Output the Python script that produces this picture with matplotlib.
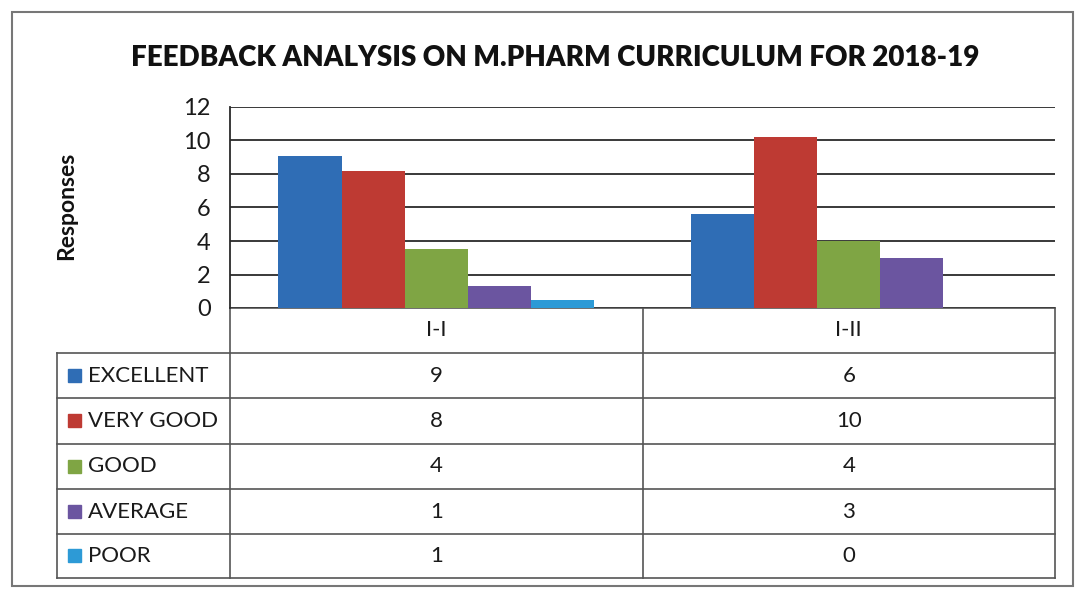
import numpy as np
import matplotlib
matplotlib.use("Agg")
import matplotlib.pyplot as plt
import matplotlib.transforms as mtransforms
from matplotlib.patches import Rectangle

# data (bars), table shows them rounded
categories = ["I-I", "I-II"]
ratings = ["EXCELLENT", "VERY GOOD", "GOOD", "AVERAGE", "POOR"]
excellent = [9.1, 5.6]
very_good = [8.2, 10.2]
good = [3.5, 4.0]
average = [1.3, 3.0]
poor = [0.5, 0.0]
colors = ["#2F6DB5", "#BE3A33", "#7FA544", "#6B55A0", "#2D9AD6"]

W, H = 1075, 590


def fx(px):
    return px / W


def fy(py):
    return 1 - py / H


def main():
    plt.rcParams["font.family"] = ["Lato", "DejaVu Sans"]
    series = [excellent, very_good, good, average, poor]

    fig = plt.figure(figsize=(W / 100, H / 100), dpi=100)

    # overlay in pixel coords for frame, table lines, texts
    ov = fig.add_axes([0, 0, 1, 1])
    ov.set_xlim(0, W)
    ov.set_ylim(H, 0)
    ov.axis("off")

    # plot area
    top, bottom = 107, 308
    ax = fig.add_axes([fx(230), fy(bottom), fx(1055) - fx(230), (bottom - top) / H])
    ax.set_xlim(-0.5, len(categories) - 0.5)
    ax.set_ylim(0, 12)
    ax.set_yticks(range(0, 13, 2))
    ax.set_xticks([])
    ax.yaxis.grid(True, color="#2a2a2a", linewidth=1.3)
    ax.set_axisbelow(True)
    for s in ["top", "right", "bottom"]:
        ax.spines[s].set_visible(False)
    ax.spines["left"].set_color("#2a2a2a")
    ax.spines["left"].set_linewidth(1.3)
    ax.tick_params(axis="y", length=0, labelsize=17, pad=14, labelcolor="#1a1a1a")

    x = np.arange(len(categories))
    bw = 0.153
    for i, vals in enumerate(series):
        ax.bar(x + (i - 2) * bw, vals, bw, color=colors[i], zorder=3)

    # title and y label
    fig.text(fx(555), fy(58), "FEEDBACK ANALYSIS ON M.PHARM CURRICULUM FOR 2018-19",
             ha="center", va="center", fontsize=20, fontweight="heavy", color="#111111")
    fig.text(fx(67), fy(206), "Responses", rotation=90, ha="center", va="center",
             fontsize=16.5, fontweight="bold", color="#111111")

    # outer frame
    ov.add_patch(Rectangle((12, 12), 1061, 574, fill=False, edgecolor="#777777", linewidth=1.5))

    # data table under the chart
    blend = mtransforms.blended_transform_factory(ax.transData, ov.transData)
    lc = "#555555"
    lw = 1.2
    row_edges = [308, 353, 398, 444, 489, 534, 578]
    col_edges = [-0.5 + k for k in range(len(categories) + 1)]
    x_left = ax.transData.transform((col_edges[0], 0))[0]
    x_right = ax.transData.transform((col_edges[-1], 0))[0]
    ov.plot([x_left, x_left], [row_edges[0], row_edges[-1]], color=lc, lw=lw)
    ov.plot([57, 57], [row_edges[1], row_edges[-1]], color=lc, lw=lw)
    for ce in col_edges[1:]:
        ov.plot([ce, ce], [row_edges[0], row_edges[-1]], color=lc, lw=lw, transform=blend)
    ov.plot([x_left, x_right], [row_edges[0], row_edges[0]], color=lc, lw=lw)
    for re in row_edges[1:]:
        ov.plot([57, x_right], [re, re], color=lc, lw=lw)

    for j, c in enumerate(categories):
        ov.text(x[j], (row_edges[0] + row_edges[1]) / 2, c, transform=blend,
                ha="center", va="center", fontsize=16, color="#1a1a1a")
    for i, vals in enumerate(series):
        yc = (row_edges[i + 1] + row_edges[i + 2]) / 2
        ov.add_patch(Rectangle((68, yc - 7), 13, 13, color=colors[i]))
        ov.text(88, yc, ratings[i], ha="left", va="center", fontsize=16, color="#1a1a1a")
        for j, v in enumerate(vals):
            ov.text(x[j], yc, str(int(np.floor(v + 0.5))), transform=blend,
                    ha="center", va="center", fontsize=16, color="#1a1a1a")

    fig.savefig("out.png", dpi=100)


if __name__ == "__main__":
    main()
